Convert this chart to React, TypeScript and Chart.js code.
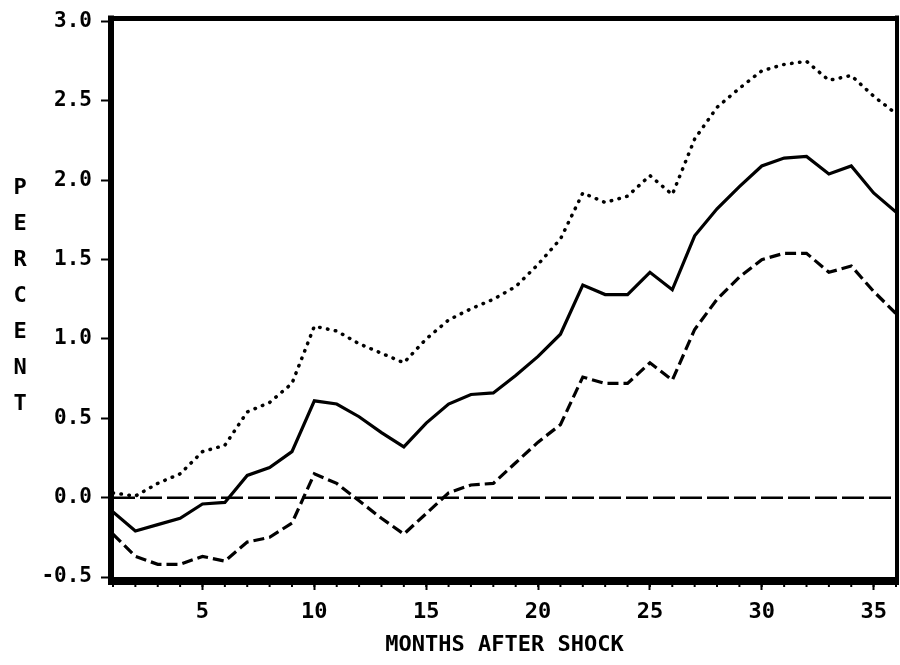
import React, { useEffect, useRef } from "react";
import { Chart, registerables } from "chart.js";

Chart.register(...registerables);

// ---- data ----
const months = [
  1, 2, 3, 4, 5, 6, 7, 8, 9, 10, 11, 12, 13, 14, 15, 16, 17, 18,
  19, 20, 21, 22, 23, 24, 25, 26, 27, 28, 29, 30, 31, 32, 33, 34, 35, 36,
];
const medianResponse = [
  -0.09, -0.21, -0.17, -0.13, -0.04, -0.03, 0.14, 0.19, 0.29, 0.61, 0.59, 0.51,
  0.41, 0.32, 0.47, 0.59, 0.65, 0.66, 0.77, 0.89, 1.03, 1.34, 1.28, 1.28,
  1.42, 1.31, 1.65, 1.82, 1.96, 2.09, 2.14, 2.15, 2.04, 2.09, 1.92, 1.8,
];
const upperBand = [
  0.03, 0.01, 0.09, 0.15, 0.29, 0.33, 0.54, 0.6, 0.72, 1.08, 1.05, 0.97,
  0.91, 0.85, 1.0, 1.12, 1.19, 1.25, 1.33, 1.47, 1.63, 1.92, 1.86, 1.9,
  2.03, 1.91, 2.26, 2.46, 2.58, 2.69, 2.73, 2.75, 2.63, 2.66, 2.53, 2.42,
];
const lowerBand = [
  -0.23, -0.37, -0.42, -0.42, -0.37, -0.4, -0.28, -0.25, -0.16, 0.15, 0.09, -0.02,
  -0.13, -0.23, -0.1, 0.03, 0.08, 0.09, 0.22, 0.35, 0.46, 0.76, 0.72, 0.72,
  0.85, 0.74, 1.06, 1.25, 1.39, 1.5, 1.54, 1.54, 1.42, 1.46, 1.3, 1.16,
];
const xTickValues = [5, 10, 15, 20, 25, 30, 35];
const yMin = -0.5;
const yMax = 3.0;
const yStep = 0.5;
const zeroLevel = 0;
const xTitle = "MONTHS AFTER SHOCK";
const yTitle = "PERCENT";

const FONT = "'DejaVu Sans Mono', 'Liberation Mono', monospace";

const toPoints = (vals: number[]) => months.map((m, i) => ({ x: m, y: vals[i] }));

const framePlugin = {
  id: "frameAndTitle",
  afterDraw(chart: any) {
    const { ctx, chartArea: a, scales } = chart;
    const line = (x1: number, y1: number, x2: number, y2: number) => {
      ctx.beginPath();
      ctx.moveTo(x1, y1);
      ctx.lineTo(x2, y2);
      ctx.stroke();
    };
    ctx.save();
    ctx.strokeStyle = "#000";
    ctx.lineCap = "butt";
    // minor month ticks
    ctx.lineWidth = 2;
    months.forEach((m) => {
      const px = scales.x.getPixelForValue(m);
      line(px, a.bottom + 6, px, a.bottom + 10);
    });
    // frame
    ctx.lineWidth = 6;
    line(a.left - 2, a.top - 6, a.left - 2, a.bottom + 8);
    ctx.lineWidth = 8;
    line(a.left - 5, a.bottom + 4, a.right + 3, a.bottom + 4);
    ctx.lineWidth = 5;
    line(a.left - 5, a.top - 3, a.right + 3, a.top - 3);
    ctx.lineWidth = 4;
    line(a.right + 1, a.top - 6, a.right + 1, a.bottom + 8);
    // vertical stacked y title
    ctx.fillStyle = "#000";
    ctx.font = `bold 22px ${FONT}`;
    ctx.textAlign = "center";
    ctx.textBaseline = "middle";
    const letters = yTitle.split("");
    const spacing = 36;
    const mid = (a.top + a.bottom) / 2 - 3;
    letters.forEach((ch, i) => {
      ctx.fillText(ch, 20, mid + (i - (letters.length - 1) / 2) * spacing);
    });
    ctx.restore();
  },
};

export default function App() {
  const canvasRef = useRef<HTMLCanvasElement | null>(null);

  useEffect(() => {
    const canvas = canvasRef.current;
    if (!canvas) return;
    const chart = new Chart(canvas, {
      type: "line",
      data: {
        datasets: [
          {
            data: [
              { x: months[0], y: zeroLevel },
              { x: months[months.length - 1], y: zeroLevel },
            ],
            borderColor: "#000",
            borderWidth: 2.5,
            borderDash: [22, 5],
            pointRadius: 0,
            tension: 0,
          },
          {
            data: toPoints(upperBand),
            borderColor: "#000",
            borderWidth: 3.5,
            borderDash: [0.5, 7.5],
            borderCapStyle: "round",
            pointRadius: 0,
            tension: 0,
          },
          {
            data: toPoints(medianResponse),
            borderColor: "#000",
            borderWidth: 3.2,
            pointRadius: 0,
            tension: 0,
          },
          {
            data: toPoints(lowerBand),
            borderColor: "#000",
            borderWidth: 3.2,
            borderDash: [11, 5],
            pointRadius: 0,
            tension: 0,
          },
        ],
      },
      options: {
        animation: false,
        responsive: false,
        events: [],
        layout: { padding: { left: 0, top: 21, right: 4, bottom: 0 } },
        plugins: {
          legend: { display: false },
          tooltip: { enabled: false },
          title: { display: false },
        },
        scales: {
          x: {
            type: "linear",
            min: months[0],
            max: months[months.length - 1],
            afterBuildTicks: (scale: any) => {
              scale.ticks = xTickValues.map((v) => ({ value: v }));
            },
            afterFit: (scale: any) => {
              scale.height = 88;
            },
            grid: {
              drawOnChartArea: false,
              drawTicks: true,
              tickLength: 13,
              tickWidth: 2,
              tickColor: "#000",
              color: "#000",
            },
            border: { display: false },
            ticks: {
              color: "#000",
              padding: 9,
              maxRotation: 0,
              autoSkip: false,
              font: { family: FONT, size: 22, weight: "bold" },
            },
            title: {
              display: true,
              text: xTitle,
              color: "#000",
              font: { family: FONT, size: 22, weight: "bold" },
              padding: { top: 0, bottom: 7 },
            },
          },
          y: {
            type: "linear",
            min: yMin,
            max: yMax,
            afterFit: (scale: any) => {
              scale.width = 113;
            },
            grid: {
              drawOnChartArea: false,
              drawTicks: true,
              tickLength: 12,
              tickWidth: 2,
              tickColor: "#000",
              color: "#000",
            },
            border: { display: false },
            ticks: {
              stepSize: yStep,
              color: "#000",
              padding: 9,
              font: { family: FONT, size: 21, weight: "bold" },
              callback: (v: any) => Number(v).toFixed(1),
            },
          },
        },
      },
      plugins: [framePlugin],
    } as any);
    return () => chart.destroy();
  }, []);

  return (
    <div style={{ position: "fixed", left: 0, top: 0, width: 900, height: 665, background: "#fff" }}>
      <canvas ref={canvasRef} width={900} height={665} style={{ display: "block" }} />
    </div>
  );
}
